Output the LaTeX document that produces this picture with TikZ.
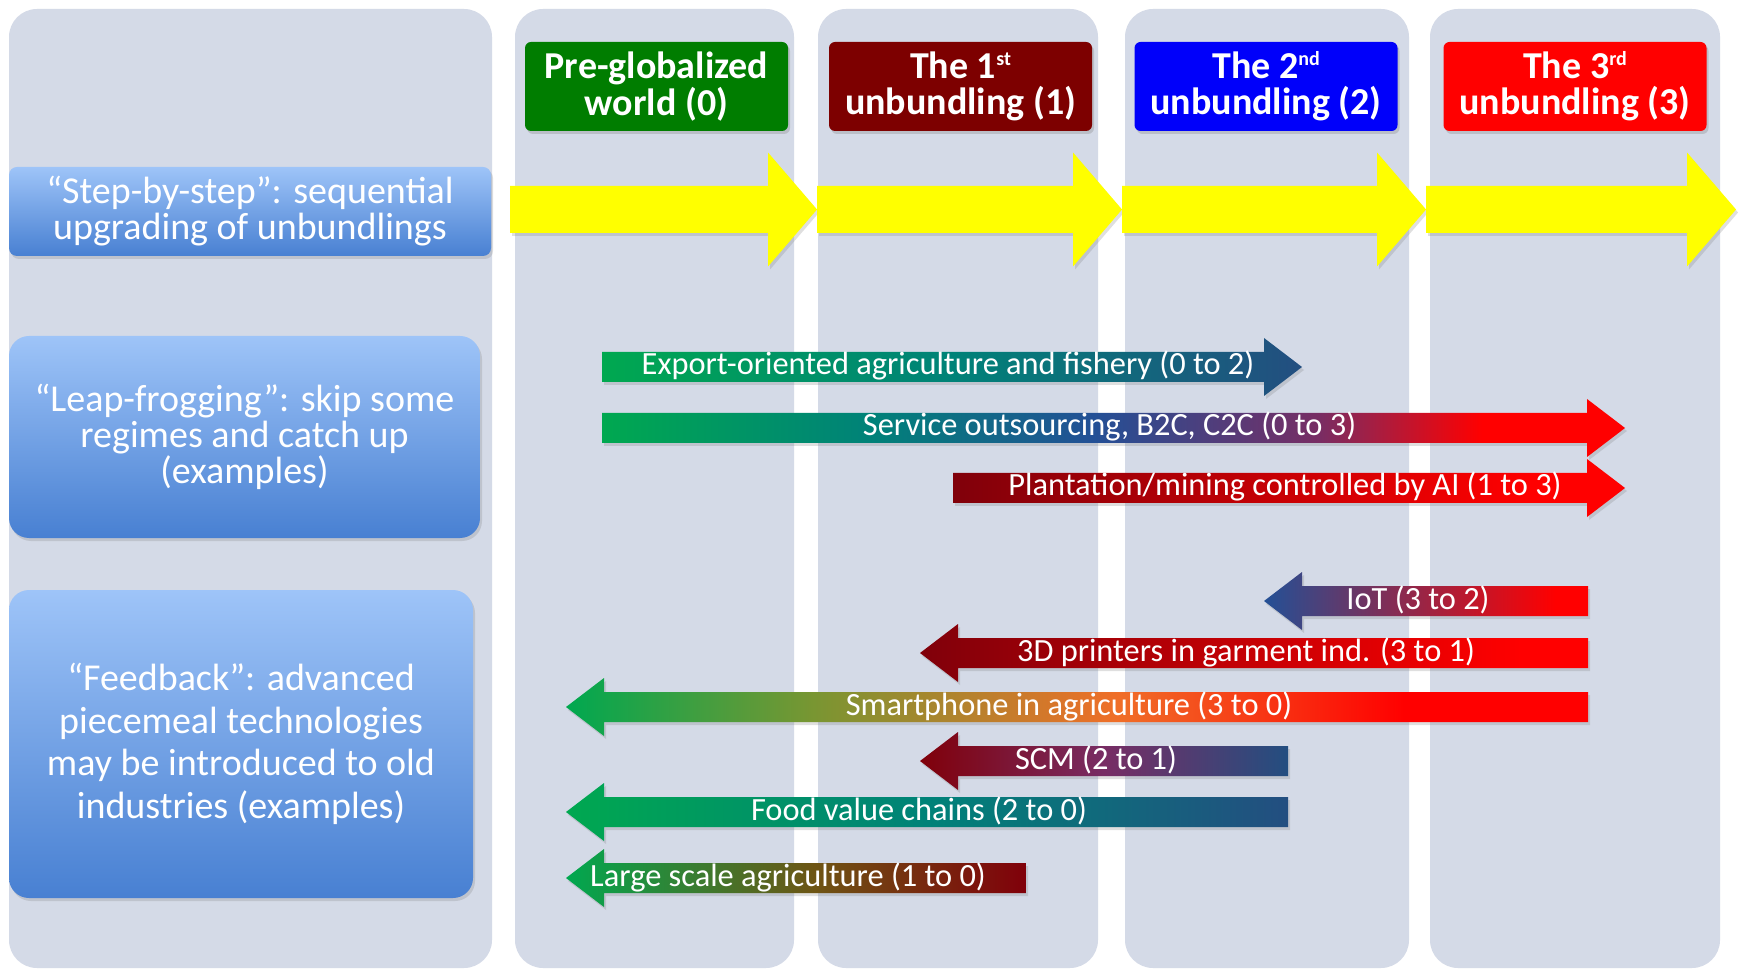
\documentclass[tikz,border=0pt]{standalone}
\usepackage{fontspec}
\setmainfont{Carlito}
\usetikzlibrary{calc,shadows}

\definecolor{panel}{RGB}{212,218,231}
\definecolor{hgreen}{RGB}{0,125,0}
\definecolor{hmaroon}{RGB}{125,0,0}
\definecolor{hblue}{RGB}{0,0,250}
\definecolor{hred}{RGB}{255,0,0}
\definecolor{boxtop}{RGB}{158,196,248}
\definecolor{boxbot}{RGB}{72,128,210}
\definecolor{yarrow}{RGB}{255,255,0}
\definecolor{agreen}{RGB}{0,168,80}
\definecolor{ateal}{RGB}{0,130,120}
\definecolor{ablue}{RGB}{35,80,150}
\definecolor{anavy}{RGB}{35,78,128}
\definecolor{apurple}{RGB}{120,45,100}
\definecolor{adark}{RGB}{128,0,10}
\definecolor{aolive}{RGB}{120,150,50}
\definecolor{aorange}{RGB}{240,110,40}
\definecolor{abrown}{RGB}{110,85,20}

% shadings (path box = 25bp..75bp)
\pgfdeclarehorizontalshading{expshade}{100bp}{color(0bp)=(agreen); color(25bp)=(agreen); color(50bp)=(ateal); color(75bp)=(anavy); color(100bp)=(anavy)}
\pgfdeclarehorizontalshading{svcshade}{100bp}{color(0bp)=(agreen); color(25bp)=(agreen); color(38bp)=(ateal); color(49bp)=(ablue); color(60bp)=(apurple); color(68bp)=(hred); color(100bp)=(hred)}
\pgfdeclarehorizontalshading{plnshade}{100bp}{color(0bp)=(adark); color(25bp)=(adark); color(68bp)=(hred); color(100bp)=(hred)}
\pgfdeclarehorizontalshading{iotshade}{100bp}{color(0bp)=(ablue); color(25bp)=(ablue); color(70bp)=(hred); color(100bp)=(hred)}
\pgfdeclarehorizontalshading{prnshade}{100bp}{color(0bp)=(adark); color(25bp)=(adark); color(70bp)=(hred); color(100bp)=(hred)}
\pgfdeclarehorizontalshading{phnshade}{100bp}{color(0bp)=(agreen); color(25bp)=(agreen); color(37bp)=(aolive); color(52bp)=(aorange); color(66bp)=(hred); color(100bp)=(hred)}
\pgfdeclarehorizontalshading{scmshade}{100bp}{color(0bp)=(adark); color(25bp)=(adark); color(50bp)=(apurple); color(75bp)=(anavy); color(100bp)=(anavy)}
\pgfdeclarehorizontalshading{fdshade}{100bp}{color(0bp)=(agreen); color(25bp)=(agreen); color(50bp)=(ateal); color(75bp)=(anavy); color(100bp)=(anavy)}
\pgfdeclarehorizontalshading{lrgshade}{100bp}{color(0bp)=(agreen); color(25bp)=(agreen); color(52bp)=(abrown); color(75bp)=(adark); color(100bp)=(adark)}

\newcommand{\supx}[1]{\raisebox{0.33em}{\fontsize{10}{10}\selectfont #1}}

\begin{document}
\begin{tikzpicture}[x=0.5pt, y=0.5pt,
  lbox/.style={rounded corners=10pt, top color=boxtop, bottom color=boxbot,
    text=white, align=center, font=\fontsize{19}{18}\selectfont,
    drop shadow={shadow xshift=1pt, shadow yshift=-1.5pt, opacity=0.25}},
  hbox/.style={rounded corners=3pt, minimum width=131.5pt, minimum height=44.5pt,
    text=white, align=center, font=\fontsize{19}{18.3}\selectfont\bfseries,
    drop shadow={shadow xshift=1pt, shadow yshift=-1.5pt, opacity=0.3}},
  atext/.style={text=white, font=\fontsize{16.2}{16}\selectfont,
    text height=11.5pt, text depth=3.5pt, inner sep=0pt},
  ashadow/.style={drop shadow={shadow xshift=1pt, shadow yshift=-1.5pt, opacity=0.25}}
]

\useasboundingbox (0,0) rectangle (1738,970);
\fill[white] (0,0) rectangle (1738,970);

% Panels
\fill[panel, rounded corners=14pt] (9,2) rectangle (492,961);
\foreach \a/\b in {515/794, 818/1098, 1125/1409, 1430/1720}
  \fill[panel, rounded corners=14pt] (\a,2) rectangle (\b,961);

% Headers
\node[hbox, fill=hgreen] (h0) at (656.5,883.5) {Pre-globalized\\world (0)};
\node[hbox, fill=hmaroon] (h1) at (960.5,883.5) {The 1\supx{st}\\unbundling (1)};
\node[hbox, fill=hblue] (h2) at (1266,883.5) {The 2\supx{nd}\\unbundling (2)};
\node[hbox, fill=hred] (h3) at (1575,883.5) {The 3\supx{rd}\\unbundling (3)};

% Left labels
\node[lbox, minimum width=241pt, minimum height=44.5pt, rounded corners=4pt] (step) at (250,758.5)
  {“Step-by-step”: sequential\\upgrading of unbundlings};
\node[lbox, minimum width=235.5pt, minimum height=101pt] (leap) at (244.5,533)
  {“Leap-frogging”: skip some\\regimes and catch up\\(examples)};
\node[lbox, minimum width=232pt, minimum height=154pt,
  font=\fontsize{19}{21.3}\selectfont] (feed) at (241,226)
  {“Feedback”: advanced\\piecemeal technologies\\may be introduced to old\\industries (examples)};

% Step-by-step arrows
\foreach \s/\t in {510/817, 817/1122, 1122/1426, 1426/1736}
  \fill[yarrow, ashadow] (\s,737) -- (\t-49,737) -- (\t-49,703.5) -- (\t,760.5)
    -- (\t-49,817.5) -- (\t-49,784) -- (\s,784) -- cycle;

% Leap-frogging arrows
\foreach \s/\t/\y/\sh/\txt [count=\i] in {
  602/1302/603/expshade/{Export-oriented agriculture and fishery (0 to 2)},
  602/1625/542/svcshade/{Service outsourcing, B2C, C2C (0 to 3)},
  953/1625/482/plnshade/{Plantation/mining controlled by AI (1 to 3)}}
{
  \shade[shading=\sh, ashadow] (\s,\y-15) -- (\t-38,\y-15) -- (\t-38,\y-29) -- (\t,\y)
    -- (\t-38,\y+29) -- (\t-38,\y+15) -- (\s,\y+15) -- cycle;
  \node[atext] (lf\i) at ({(\s+\t)/2-4},\y) {\txt};
}

% Feedback arrows
\foreach \s/\t/\y/\sh/\txt [count=\i] in {
  1588/1264/369/iotshade/{IoT (3 to 2)},
  1588/920/317/prnshade/{3D printers in garment ind. (3 to 1)},
  1588/566/263/phnshade/{Smartphone in agriculture (3 to 0)},
  1288/920/209/scmshade/{SCM (2 to 1)},
  1288/566/158/fdshade/{Food value chains (2 to 0)},
  1026/566/92/lrgshade/{Large scale agriculture (1 to 0)}}
{
  \shade[shading=\sh, ashadow] (\s,\y-15) -- (\t+38,\y-15) -- (\t+38,\y-29) -- (\t,\y)
    -- (\t+38,\y+29) -- (\t+38,\y+15) -- (\s,\y+15) -- cycle;
  \node[atext] (fb\i) at ({(\s+\t)/2-8},\y) {\txt};
}

\end{tikzpicture}
\end{document}
